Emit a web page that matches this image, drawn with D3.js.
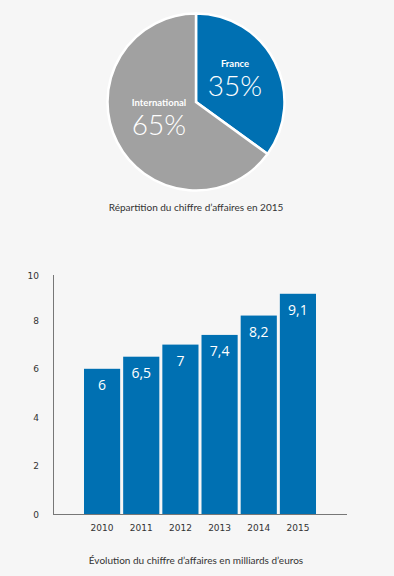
<!DOCTYPE html>
<html><head><meta charset="utf-8">
<script src="https://cdn.jsdelivr.net/npm/d3@7"></script>
<style>
html,body{margin:0;padding:0;background:#f6f6f6;}
svg{display:block;}
</style></head>
<body>
<svg id="c" width="394" height="576"></svg>
<script>
// Pie data
const pieLabels = ["France", "International"];
const pieValues = [35, 65];
const pieColors = ["#0070b2", "#a1a1a1"];
const pieCaption = "Répartition du chiffre d\u2019affaires en 2015";

// Bar data
const years = ["2010", "2011", "2012", "2013", "2014", "2015"];
const revenue = [6, 6.5, 7, 7.4, 8.2, 9.1];
const revenueLabels = ["6", "6,5", "7", "7,4", "8,2", "9,1"];
const yTicks = [0, 2, 4, 6, 8, 10];
const barCaption = "Évolution du chiffre d\u2019affaires en milliards d\u2019euros";

const svg = d3.select("#c");
const FONT = "Lato, 'Open Sans', sans-serif";
const TICKFONT = "'DejaVu Sans', Verdana, sans-serif";

// ---- Pie ----
const cx = 196, cy = 102, r = 88.5;
const pie = d3.pie().sort(null).value(d => d)(pieValues);
const arc = d3.arc().innerRadius(0).outerRadius(r);
const g = svg.append("g").attr("transform", `translate(${cx},${cy})`);
g.selectAll("path").data(pie).join("path")
  .attr("d", arc)
  .attr("fill", (d, i) => pieColors[i])
  .attr("stroke", "#ffffff").attr("stroke-width", 2.5);

const labelPos = [[39, -35], [-37, 4]];
pie.forEach((d, i) => {
  const [lx, ly] = labelPos[i];
  g.append("text").attr("x", lx).attr("y", ly)
    .attr("text-anchor", "middle")
    .attr("font-family", FONT).attr("font-weight", 700).attr("font-size", 9.5)
    .attr("fill", "#fff").text(pieLabels[i]);
  g.append("text").attr("x", lx).attr("y", ly + 29)
    .attr("text-anchor", "middle")
    .attr("font-family", FONT).attr("font-weight", 300).attr("font-size", 28)
    .attr("fill", "#fff").text(pieValues[i] + "%");
});

svg.append("text").attr("x", 196).attr("y", 211)
  .attr("text-anchor", "middle").attr("font-family", FONT).attr("font-size", 10)
  .attr("fill", "#333").text(pieCaption);

// ---- Bars ----
const x = d3.scaleBand().domain(years).range([84, 316]).paddingInner(0.077).paddingOuter(0);
const y = d3.scaleLinear().domain([0, 10]).range([514, 272]);

svg.append("g").selectAll("rect").data(revenue).join("rect")
  .attr("x", (d, i) => x(years[i]))
  .attr("y", d => y(d))
  .attr("width", x.bandwidth())
  .attr("height", d => y(0) - y(d))
  .attr("fill", "#0070b2");

svg.append("g").selectAll("text").data(revenue).join("text")
  .attr("x", (d, i) => x(years[i]) + x.bandwidth() / 2)
  .attr("y", d => y(d) + 21)
  .attr("text-anchor", "middle")
  .attr("font-family", "'Open Sans', Lato, sans-serif").attr("font-weight", 400).attr("font-size", 14)
  .attr("fill", "#fff")
  .text((d, i) => revenueLabels[i]);

// axes lines
svg.append("line").attr("x1", 53.5).attr("x2", 53.5).attr("y1", 275).attr("y2", y(0) + 0.5)
  .attr("stroke", "#777").attr("stroke-width", 1);
svg.append("line").attr("x1", 53).attr("x2", 347).attr("y1", y(0) + 0.5).attr("y2", y(0) + 0.5)
  .attr("stroke", "#777").attr("stroke-width", 1);

// y tick labels
svg.append("g").selectAll("text").data(yTicks).join("text")
  .attr("x", 39).attr("y", d => y(d) + 3.5 + (d === 10 ? 3 : 0))
  .attr("text-anchor", "end")
  .attr("font-family", TICKFONT).attr("font-size", 9)
  .attr("fill", "#333").text(d => d);

// x tick labels
svg.append("g").selectAll("text").data(years).join("text")
  .attr("x", d => x(d) + x.bandwidth() / 2)
  .attr("y", 531)
  .attr("text-anchor", "middle")
  .attr("font-family", TICKFONT).attr("font-size", 9)
  .attr("fill", "#333").text(d => d);

svg.append("text").attr("x", 196).attr("y", 564)
  .attr("text-anchor", "middle").attr("font-family", FONT).attr("font-size", 10)
  .attr("fill", "#333").text(barCaption);
</script>
</body></html>
